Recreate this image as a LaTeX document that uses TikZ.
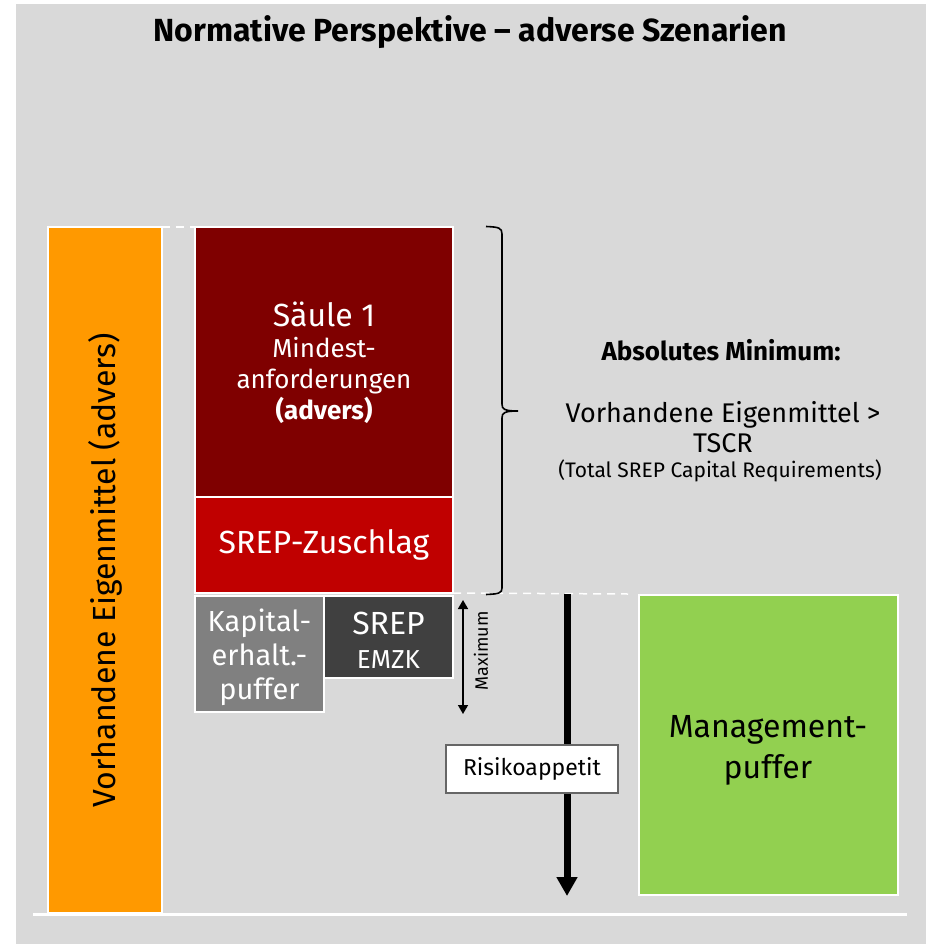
\documentclass[tikz,border=0pt]{standalone}
\usepackage{fontspec}
\setmainfont{Fira Sans}
\usetikzlibrary{arrows.meta}
\definecolor{bggray}{HTML}{D9D9D9}
\definecolor{eigenorange}{HTML}{FF9900}
\definecolor{saeulered}{HTML}{7F0000}
\definecolor{srepred}{HTML}{C00000}
\definecolor{kapgray}{HTML}{808080}
\definecolor{emzkgray}{HTML}{404040}
\definecolor{mgmtgreen}{HTML}{92D050}
\tikzset{
  blockbox/.style={draw=white, line width=1.5pt, inner sep=0pt, outer sep=0pt,
    anchor=north west, align=center},
  whitedash/.style={draw=white, line width=1.5pt, dash pattern=on 8pt off 6pt},
}
\begin{document}
\begin{tikzpicture}[x=1pt,y=-1pt]
  \useasboundingbox (0,0) rectangle (926,944);
  \fill[bggray] (16,4) rectangle (926,944);

  % title
  \node[font=\bfseries\fontsize{32}{36}\selectfont] (title) at (470,32)
    {Normative Perspektive -- adverse Szenarien};

  % own funds column
  \node[blockbox, fill=eigenorange, minimum width=114pt, minimum height=686pt]
    (eigen) at (48,227) {};
  \node[rotate=90, font=\fontsize{32}{36}\selectfont] (eigentext) at (eigen.center)
    {Vorhandene Eigenmittel (advers)};

  % pillar 1 and surcharges
  \node[blockbox, fill=saeulered, minimum width=258pt, minimum height=270pt]
    (saeule) at (195,227) {};
  \node[text=white, align=center, font=\fontsize{26}{31}\selectfont] (saeuletext)
    at (324,363) {{\fontsize{32}{36}\selectfont Säule 1}\\Mindest-\\anforderungen\\\textbf{(advers)}};
  \node[blockbox, fill=srepred, minimum width=258pt, minimum height=96pt,
        text=white, font=\fontsize{32}{36}\selectfont] (zuschlag) at (195,497)
    {SREP-Zuschlag};
  \node[blockbox, fill=kapgray, minimum width=129pt, minimum height=116pt]
    (kapital) at (195,596) {};
  \node[text=white, align=center, font=\fontsize{29}{34}\selectfont] (kapitaltext)
    at (259.5,657) {Kapital-\\erhalt.-\\puffer};
  \node[blockbox, fill=emzkgray, minimum width=129pt, minimum height=82pt]
    (emzk) at (324,596) {};
  \node[text=white, align=center, font=\fontsize{26}{34}\selectfont] (emzktext)
    at (388.5,640) {{\fontsize{32}{34}\selectfont SREP}\\EMZK};

  % dashed guide lines
  \draw[whitedash] (eigen.north east) -- (saeule.north west);
  \coordinate (dashend) at (628,594);
  \draw[whitedash] (zuschlag.south east) -- (dashend);

  % curly brace around the TSCR blocks
  \coordinate (bracetop) at (486,226.5);
  \coordinate (bracetip) at (518,411);
  \coordinate (bracebot) at (486,594.5);
  \draw[line width=1.6pt]
    (bracetop) .. controls (499,227) and (502,228) .. (502,234)
    -- (502,404) .. controls (502,409) and (504,411) .. (bracetip)
    .. controls (504,411) and (502,413) .. (502,418)
    -- (502,588) .. controls (502,593) and (499,594) .. (bracebot);

  % TSCR text
  \node[font=\bfseries\fontsize{26}{30}\selectfont] (absmin) at (721,350)
    {Absolutes Minimum:};
  \node[align=center, font=\fontsize{27}{30}\selectfont] (tscr) at (723,427)
    {Vorhandene Eigenmittel >\\TSCR};
  \node[font=\fontsize{21}{24}\selectfont] (tscrlong) at (720,471)
    {(Total SREP Capital Requirements)};

  % maximum range arrow
  \coordinate (maxtop) at (463,600);
  \coordinate (maxbot) at (463,714);
  \draw[line width=1.5pt, {Triangle[width=10pt,length=9pt]}-{Triangle[width=10pt,length=9pt]}]
    (maxtop) -- (maxbot);
  \node[rotate=90, font=\fontsize{18}{20}\selectfont] (maxlabel) at (481,651) {Maximum};

  % risk appetite arrow
  \coordinate (appstart) at (567,594);
  \coordinate (append) at (567,896);
  \draw[line width=7pt, -{Triangle[width=20pt,length=19pt]}] (appstart) -- (append);
  \node[draw=black!60, line width=1.2pt, fill=white, minimum width=172pt,
        minimum height=48pt, inner sep=0pt, font=\fontsize{23}{26}\selectfont]
    (risiko) at (532,769) {Risikoappetit};

  % management buffer
  \node[blockbox, fill=mgmtgreen, minimum width=259pt, minimum height=300pt]
    (mgmt) at (639,595) {};
  \node[align=center, font=\fontsize{32}{41}\selectfont] (mgmttext) at (768,750)
    {Management-\\puffer};

  % base line
  \coordinate (baseL) at (33,914);
  \coordinate (baseR) at (907,914);
  \draw[white, line width=3pt] (baseL) -- (baseR);
\end{tikzpicture}
\end{document}
